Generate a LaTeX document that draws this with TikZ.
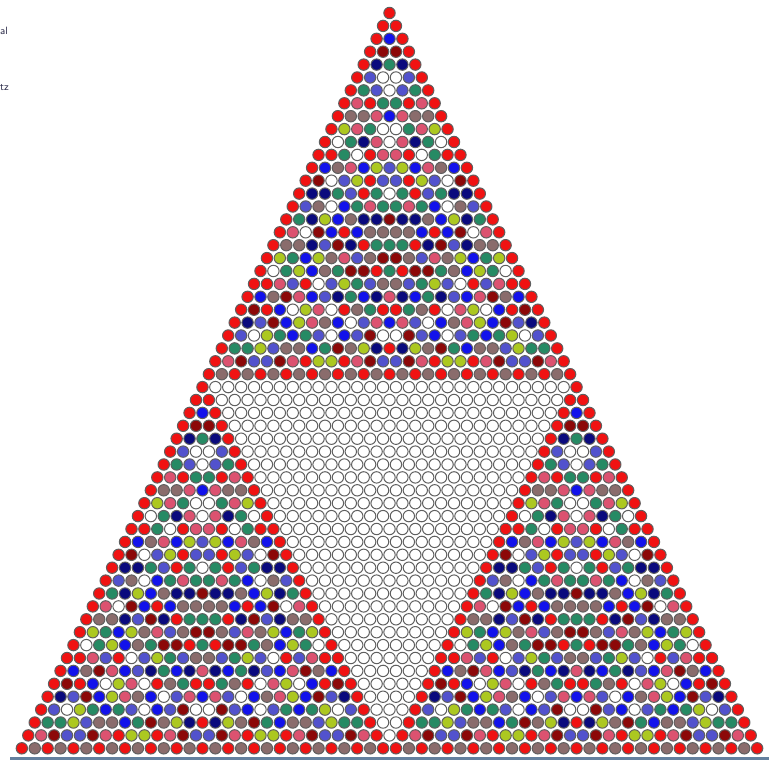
\documentclass[tikz,border=0pt]{standalone}
\usepackage{tikz}
\usetikzlibrary{calc}

% colour of a cell by (C(n,k) mod 29) mod 10
\definecolor{pc0}{RGB}{255,255,255}
\definecolor{pc1}{RGB}{240,18,18}
\definecolor{pc2}{RGB}{18,18,235}
\definecolor{pc3}{RGB}{140,8,8}
\definecolor{pc4}{RGB}{10,10,125}
\definecolor{pc5}{RGB}{82,82,205}
\definecolor{pc6}{RGB}{38,138,100}
\definecolor{pc7}{RGB}{220,82,112}
\definecolor{pc8}{RGB}{138,108,108}
\definecolor{pc9}{RGB}{172,200,32}
\definecolor{cellline}{RGB}{95,95,95}
\definecolor{basecol}{RGB}{100,128,158}
\definecolor{notecol}{RGB}{45,45,75}

\tikzset{
  cell/.style={circle, draw=cellline, line width=0.03cm, minimum size=0.342cm, inner sep=0pt},
  note/.style={anchor=west, font=\sffamily\small, text=notecol, inner sep=0pt}
}

\begin{document}
\begin{tikzpicture}[x=0.03cm,y=-0.03cm]
\useasboundingbox (0,0) rectangle (769,760);
\fill[white] (0,0) rectangle (769,760);
\node[note] (notea) at (0,31) {al};
\node[note] (noteb) at (0,88) {tz};
\foreach \n in {0,...,57}{
  \foreach \k in {0,...,\n}{
    \pgfmathtruncatemacro{\m}{\n-1}
    \pgfmathtruncatemacro{\j}{\k-1}
    \ifnum\k=0 \def\v{1}\else\ifnum\k=\n\relax \def\v{1}\else
      \edef\v{\the\numexpr\csname pv-\m-\j\endcsname+\csname pv-\m-\k\endcsname\relax}%
      \ifnum\v>28 \edef\v{\the\numexpr\v-29\relax}\fi
    \fi\fi
    \expandafter\xdef\csname pv-\n-\k\endcsname{\v}
    \pgfmathtruncatemacro{\c}{mod(\v,10)}
    \node[cell, fill=pc\c] (c-\n-\k) at ({389.5+(\k-\n/2)*12.9},{13+\n*12.9}) {};
  }
}
\draw[draw=basecol, line width=0.075cm] (10,758.5) -- (769,758.5);
\end{tikzpicture}
\end{document}
